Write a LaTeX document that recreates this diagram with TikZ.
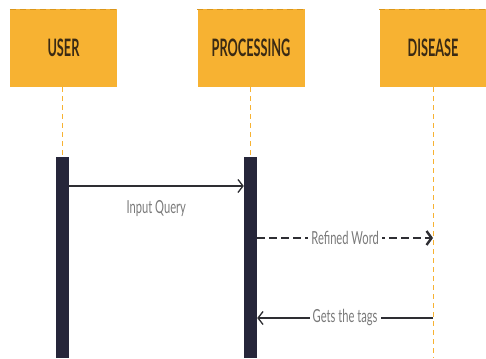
\documentclass[tikz,border=0pt]{standalone}
\usepackage{fontspec}
\setmainfont{Lato}
\usetikzlibrary{arrows.meta,positioning}
\definecolor{headfill}{HTML}{F7B232}
\definecolor{headedge}{HTML}{D9961E}
\definecolor{headtext}{HTML}{3A2A14}
\definecolor{barcol}{HTML}{26263A}
\definecolor{labcol}{HTML}{7A7A7A}
\definecolor{linecol}{HTML}{2E2E33}

\begin{document}
\begin{tikzpicture}[x=1pt,y=-1pt,
	head/.style={fill=headfill,minimum width=107pt,minimum height=78pt,inner sep=0pt,
		font=\fontsize{24}{28}\selectfont\bfseries,text=headtext},
	bar/.style={fill=barcol,minimum width=13pt,minimum height=201pt,inner sep=0pt,anchor=north},
	life/.style={headfill,dashed,line width=0.8pt,dash pattern=on 5pt off 4pt},
	msg/.style={linecol,line width=1.3pt,-{Straight Barb[length=5pt,width=13pt,line width=1.3pt]}},
	dmsg/.style={linecol,line width=2.8pt,dash pattern=on 8pt off 4pt,
		-{Straight Barb[length=5pt,width=14pt,line width=2.4pt]}},
	lab/.style={text=labcol,font=\fontsize{18}{20}\selectfont,fill=white,inner sep=3pt}]
	\useasboundingbox (0,0) rectangle (486,358);
	% headers
	\node[head] (user) at (63.5,48) {\scalebox{0.53}[1]{USER}};
	\node[head] (proc) at (251,48) {\scalebox{0.53}[1]{PROCESSING}};
	\node[head] (dis) at (433,48) {\scalebox{0.53}[1]{DISEASE}};
	\foreach \n in {user,proc,dis}
		\draw[headedge,line width=1.2pt,dash pattern=on 6pt off 4pt] ([yshift=-1pt]\n.north west) -- ([yshift=-1pt]\n.north east);
	% activation bars
	\node[bar] (ubar) at (62,157) {};
	\node[bar] (pbar) at (250.5,157) {};
	\coordinate (disend) at (433,358);
	% lifelines
	\draw[life] (user.south -| ubar) -- (ubar.north);
	\draw[life] (proc.south -| pbar) -- (pbar.north);
	\draw[life] (dis.south) -- (disend);
	% messages
	\draw[msg] (ubar.east |- 0,186) -- (pbar.west |- 0,186)
		node[midway,yshift=-23pt,lab,fill=none] {\scalebox{0.62}[1]{Input Query}};
	\draw[dmsg] (pbar.east |- 0,238) -- (disend |- 0,238)
		node[pos=0.5,lab] {\scalebox{0.62}[1]{Refined Word}};
	\draw[msg] (disend |- 0,318) -- (pbar.east |- 0,318)
		node[pos=0.5,lab] {\scalebox{0.62}[1]{Gets the tags}};
\end{tikzpicture}
\end{document}
